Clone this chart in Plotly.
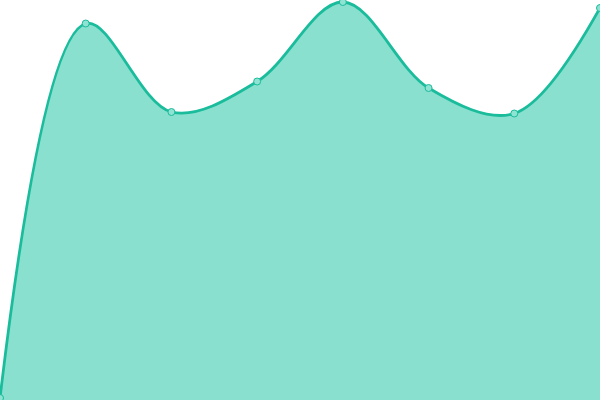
import plotly.graph_objects as go

x_index = [0, 1, 2, 3, 4, 5, 6, 7]
values = [2, 376.5, 288, 318.5, 398, 312, 286.5, 392]

LINE = "#1abc9c"
FILL = "#8ae0cf"

fig = go.Figure(go.Scatter(
    x=x_index, y=values,
    mode="lines+markers",
    fill="tozeroy", fillcolor=FILL,
    line=dict(color=LINE, width=2.8, shape="spline", smoothing=1),
    marker=dict(size=7, color="#8fe3d2", line=dict(color=LINE, width=1)),
    hoverinfo="skip",
))
fig.update_layout(
    width=600, height=400,
    margin=dict(l=0, r=0, t=0, b=0),
    paper_bgcolor="white", plot_bgcolor="white",
    showlegend=False,
    xaxis=dict(range=[0, 7], visible=False),
    yaxis=dict(range=[0, 400], visible=False),
)
# page body has a default 8px margin; drop it so the plot fills the window
fig.write_html("out.html", config={"displayModeBar": False},
               post_script="document.body.style.margin='0';")
